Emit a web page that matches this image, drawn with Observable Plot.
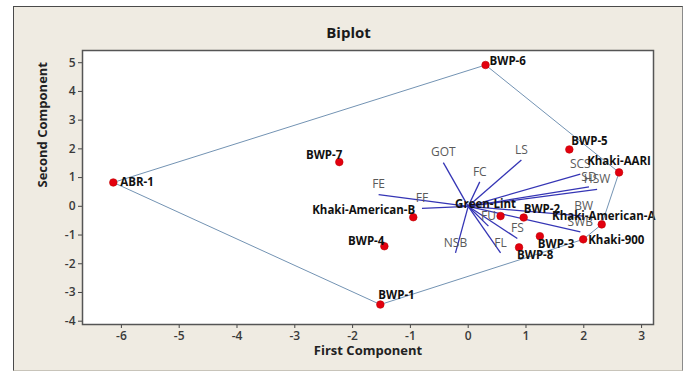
<!DOCTYPE html>
<html>
<head>
<meta charset="utf-8">
<script src="https://cdn.jsdelivr.net/npm/d3@7"></script>
<script src="https://cdn.jsdelivr.net/npm/@observablehq/plot@0.6"></script>
<style>
  html, body { margin: 0; padding: 0; background: #ffffff; }
  #wrap { position: relative; width: 690px; height: 376px; overflow: hidden; font-family: "Open Sans", sans-serif; }
  #panel { position: absolute; left: 13px; top: 6px; width: 670px; height: 365px; background: #efebe2; border: 1px solid #4a4a4a; border-right-color: #8a8a8a; border-bottom-color: #c8c4ba; box-sizing: border-box; }
  #title { position: absolute; left: 13px; width: 671px; top: 22px; text-align: center; font-weight: 700; font-size: 15px; color: #1a1a1a; }
  #chart { position: absolute; left: 0; top: 0; }
  #chart svg { background: transparent; }
</style>
</head>
<body>
<div id="wrap">
  <div id="panel"></div>
  <div id="title">Biplot</div>
  <div id="chart"></div>
</div>
<script>
// Genotype scores (first and second principal component)
const genotypes = ["ABR-1", "BWP-1", "BWP-2", "BWP-3", "BWP-4", "BWP-5", "BWP-6", "BWP-7", "BWP-8",
  "Khaki-AARI", "Khaki-American-A", "Khaki-American-B", "Khaki-900", "Green-Lint"];
const genoPC1 = [-6.14, -1.52, 0.96, 1.24, -1.45, 1.75, 0.30, -2.23, 0.88, 2.61, 2.31, -0.95, 1.99, 0.56];
const genoPC2 = [0.83, -3.42, -0.39, -1.04, -1.39, 1.98, 4.92, 1.54, -1.43, 1.18, -0.63, -0.38, -1.15, -0.34];

// Trait loading vectors
const traits = ["GOT", "FC", "LS", "SCS", "SD", "HSW", "BW", "SWB", "FS", "FL", "NSB", "FU", "FE", "FF"];
const traitPC1 = [-0.43, 0.20, 0.92, 1.94, 2.09, 2.23, 2.00, 1.94, 0.85, 0.56, -0.22, 0.35, -1.55, -0.80];
const traitPC2 = [1.52, 0.85, 1.61, 1.12, 0.68, 0.59, -0.34, -0.89, -1.12, -1.62, -1.62, -0.69, 0.41, -0.07];

// Axis ticks
const xTicks = [-6, -5, -4, -3, -2, -1, 0, 1, 2, 3];
const yTicks = [-4, -3, -2, -1, 0, 1, 2, 3, 4, 5];

// Label placement (layout only)
const labelPlacement = {
  "ABR-1": ["start", 7, 0],
  "BWP-1": ["start", -2, -9],
  "BWP-2": ["start", 0, -8],
  "BWP-3": ["start", -2, 8],
  "BWP-4": ["end", 0, -5],
  "BWP-5": ["start", 2, -8],
  "BWP-6": ["start", 4, -4],
  "BWP-7": ["end", 3, -7],
  "BWP-8": ["start", -2, 8],
  "Khaki-AARI": ["middle", 0, -11],
  "Khaki-American-A": ["middle", 2, -8],
  "Khaki-American-B": ["end", 2, -7],
  "Khaki-900": ["start", 5, 1],
  "Green-Lint": ["middle", -15, -12]
};

const geno = genotypes.map((name, i) => ({ name, x: genoPC1[i], y: genoPC2[i] }));
const vec = traits.map((name, i) => ({ name, x: traitPC1[i], y: traitPC2[i] }));

const labelMarks = geno.map(d => {
  const [anchor, dx, dy] = labelPlacement[d.name];
  return Plot.text([d], {
    x: "x", y: "y", text: "name", textAnchor: anchor, dx, dy,
    fill: "#111", fontWeight: 700, fontSize: 11.5, fontFamily: "Open Sans"
  });
});

const plot = Plot.plot({
  width: 690,
  height: 376,
  marginLeft: 82,
  marginRight: 37,
  marginTop: 50,
  marginBottom: 52,
  style: { background: "transparent", fontFamily: "Open Sans", color: "#3a3a3a" },
  x: { domain: [-6.673, 3.206] },
  y: { domain: [-4.115, 5.425] },
  marks: [
    Plot.frame({ fill: "white", stroke: null }),
    Plot.hull(geno, { x: "x", y: "y", stroke: "#7393b3", strokeWidth: 1 }),
    Plot.link(vec, { x1: 0, y1: 0, x2: "x", y2: "y", stroke: "#3535b5", strokeWidth: 1.3 }),
    Plot.text(vec, { x: "x", y: "y", text: "name", dy: -10, fill: "#5a5a5a", fontSize: 12, fontFamily: "Open Sans" }),
    Plot.dot(geno, { x: "x", y: "y", r: 3.8, fill: "#e3000f", stroke: "#c00000", strokeWidth: 0.6 }),
    ...labelMarks,
    Plot.axisX({ ticks: xTicks, tickFormat: d => String(d), tickSize: 4, tickPadding: 3, fontSize: 12, fontWeight: 600, label: null, stroke: "#444" }),
    Plot.axisY({ ticks: yTicks, tickFormat: d => String(d), tickSize: 4, tickPadding: 3, fontSize: 12, fontWeight: 600, label: null, stroke: "#444" }),
    Plot.text(["First Component"], { frameAnchor: "bottom", dy: 30, fontWeight: 700, fontSize: 13, fill: "#222", fontFamily: "Open Sans" }),
    Plot.text(["Second Component"], { frameAnchor: "left", dx: -40, rotate: -90, fontWeight: 700, fontSize: 13, fill: "#222", fontFamily: "Open Sans" }),
    Plot.frame({ stroke: "#555", strokeWidth: 1.5 })
  ]
});
document.getElementById("chart").appendChild(plot);
</script>
</body>
</html>
